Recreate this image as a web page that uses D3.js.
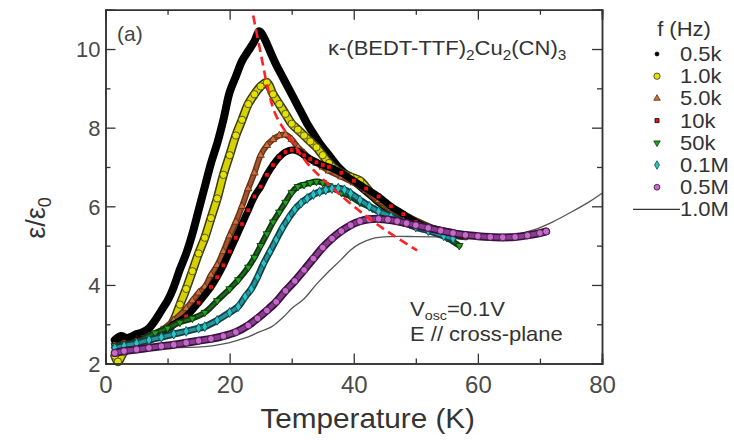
<!DOCTYPE html>
<html>
<head>
<meta charset="utf-8">
<script src="https://cdn.jsdelivr.net/npm/d3@7"></script>
<style>
  body { margin: 0; background: #fff; }
  svg { display: block; }
  text { font-family: "Liberation Sans", Arial, sans-serif; }
</style>
</head>
<body>
<svg id="chart" width="734" height="440"></svg>
<script>
// ---- data (T in K, eps/eps0) ----
const s05k = [[1.5,2.6],[2.5,2.7],[3.5,2.65],[5,2.75],[6,2.8],[7,2.9],[8,3.1],[9,3.35],[10,3.6],[11,3.95],[12,4.4],[13,4.8],[14,5.3],[15,5.9],[16,6.5],[17,7.1],[18,7.6],[19,8.2],[20,8.9],[21,9.3],[22,9.7],[23,9.95],[24,10.2],[24.8,10.45],[25.5,10.3],[26.5,9.95],[27.5,9.6],[28.5,9.3],[29.5,9.0],[30.5,8.7],[31.5,8.4],[32.5,8.1],[33.5,7.85],[34.5,7.6],[35.5,7.4],[36.5,7.2],[37.5,7.0],[38.5,6.85],[40,6.65],[41.5,6.45],[43,6.25],[44.5,6.05],[46,5.9],[48,5.72],[50,5.58],[52,5.45],[54,5.35],[56,5.28],[57.5,5.25]];
const s1k = [[1.5,2.2],[2,2.05],[3,2.3],[4,2.4],[5,2.45],[6,2.5],[7,2.6],[8,2.7],[9,2.8],[10,2.85],[11,3.1],[12,3.5],[13,3.9],[14,4.35],[15,4.8],[16,5.2],[17,5.7],[18,6.2],[19,6.8],[20,7.3],[21,7.8],[22,8.2],[23,8.6],[24,8.85],[25,9.05],[26,9.15],[27,8.85],[28,8.6],[29,8.35],[30,8.1],[31,7.95],[32,7.8],[33,7.65],[34,7.5],[35,7.3],[36,7.1],[37,6.95],[38,6.85],[39.5,6.75],[41,6.65],[43,6.3],[45,6.05],[47,5.85],[50,5.6],[53,5.4],[56,5.3],[58,5.25]];
const s5k = [[1.5,2.45],[3,2.5],[5,2.6],[7,2.7],[9,2.85],[11,3.1],[13,3.4],[14,3.6],[15,3.8],[16,3.95],[17,4.25],[18,4.5],[19,4.85],[20,5.25],[21,5.6],[22,6.0],[23,6.45],[24,6.85],[25,7.3],[26,7.55],[27,7.7],[28,7.8],[29,7.82],[30,7.7],[31,7.5],[32,7.35],[33,7.2],[34,7.1],[35,7.0],[36,6.9],[38,6.75],[40,6.6],[42,6.4],[44,6.15],[46,5.95],[48,5.75],[50,5.6],[52,5.45],[54,5.35],[56,5.28],[58,5.25]];
const s10k = [[1.5,2.5],[3,2.55],[5,2.6],[7,2.65],[9,2.78],[11,3.0],[13,3.2],[15,3.55],[17,3.95],[18,4.2],[19,4.5],[20,4.85],[21,5.2],[22,5.55],[23,5.9],[24,6.25],[25,6.5],[26,6.8],[27,7.05],[28,7.25],[29,7.38],[30,7.43],[31,7.4],[32,7.3],[33,7.2],[34,7.12],[35,7.05],[36,7.0],[38,6.85],[40,6.65],[42,6.45],[44,6.25],[46,6.0],[48,5.8],[50,5.6],[52,5.45],[54,5.38],[56,5.3],[58,5.25]];
const s50k = [[1.5,2.45],[3,2.5],[5,2.55],[8,2.78],[10,2.9],[12,3.05],[14,3.15],[16,3.3],[18,3.6],[20,3.9],[21.4,4.13],[23,4.45],[24,4.7],[25,5.0],[26,5.3],[27,5.6],[28,5.85],[29,6.1],[30,6.35],[31,6.5],[32,6.55],[33,6.6],[34,6.63],[35,6.6],[36,6.52],[37,6.45],[38,6.35],[39.5,6.25],[41,6.1],[43,5.95],[45,5.8],[47,5.65],[49,5.55],[51,5.45],[53,5.35],[55,5.2],[57,5.0]];
const s01M = [[1.5,2.4],[3,2.45],[5,2.52],[7,2.6],[9,2.67],[11,2.75],[13,2.82],[15,2.9],[16,2.94],[18,3.1],[20,3.3],[21.4,3.45],[22.5,3.7],[23.5,3.9],[24.5,4.2],[25.5,4.55],[26.5,4.85],[27.5,5.15],[28.5,5.45],[29.5,5.7],[30.5,5.92],[31.5,6.08],[32.5,6.2],[33.5,6.3],[34.5,6.37],[35.5,6.42],[36.5,6.45],[37.5,6.46],[38.5,6.42],[39.5,6.33],[41,6.16],[42.5,6.0],[44,5.87],[46,5.74],[48,5.6],[50,5.47],[52,5.38],[54.5,5.25],[56,5.18]];
const s05M = [[1.5,2.27],[3,2.32],[5,2.36],[7,2.4],[9,2.44],[11,2.48],[13,2.53],[15,2.58],[17,2.63],[19,2.7],[21,2.8],[23,2.97],[24.5,3.15],[26,3.35],[27.5,3.57],[29,3.85],[30.5,4.1],[32,4.38],[33.5,4.67],[35,4.95],[36.5,5.18],[38,5.37],[39.5,5.52],[41,5.62],[42.5,5.67],[44,5.68],[45.5,5.66],[47,5.62],[48.5,5.57],[50,5.52],[52,5.45],[54,5.38],[56,5.32],[58,5.27],[60,5.24],[62,5.22],[64,5.21],[66,5.22],[68,5.26],[70,5.32],[71,5.36]];
const s1M = [[1.5,2.35],[4,2.38],[8,2.4],[12,2.41],[16,2.43],[19,2.5],[21,2.58],[23,2.68],[25,2.82],[26.8,2.94],[28.7,3.19],[30,3.4],[32,3.65],[34,4.02],[36,4.35],[38,4.65],[39.5,4.89],[41,5.05],[43,5.18],[46,5.23],[50,5.23],[55,5.22],[60,5.2],[63,5.22],[66,5.28],[69,5.4],[72,5.6],[75,5.85],[78,6.12],[80,6.33]];
const guideLine = [[23.8,10.85],[25,9.9],[26.3,8.9],[27.5,8.3],[30.3,7.6],[32.5,7.1],[36.7,6.45],[42,5.75],[46,5.3],[50.2,4.88]];

const xTicksMajor = [0,20,40,60,80];
const xTicksMinor = [10,30,50,70];
const yTicksMajor = [2,4,6,8,10];
const yTicksMinor = [3,5,7,9];
const legendLabels = ["0.5k","1.0k","5.0k","10k","50k","0.1M","0.5M","1.0M"];

// ---- layout ----
const svg = d3.select("#chart");
const X0 = 105.5, X1 = 602, Y0 = 363.6, Y1 = 9.7;
const x = d3.scaleLinear().domain([0,80]).range([X0,X1]);
const y = d3.scaleLinear().domain([2,11]).range([Y0,Y1]);
const line = d3.line().x(d=>x(d[0])).y(d=>y(d[1])).curve(d3.curveCatmullRom);

const series = [
  {data:s05k, type:d3.symbolCircle, size:16, fill:"#000", stroke:"#000", band:"#000", bandW:8, inner:null, innerW:0, rot:0},
  {data:s1k, type:d3.symbolCircle, size:42, fill:"#e6e200", stroke:"#333", band:"#3a3a10", bandW:9, inner:"#d6d200", innerW:6, rot:0},
  {data:s5k, type:d3.symbolTriangle, size:24, fill:"#c8703f", stroke:"#5a2a10", band:"#6a3418", bandW:6, inner:"#a4572c", innerW:3, rot:0},
  {data:s10k, type:d3.symbolSquare, size:22, fill:"#ee1111", stroke:"#000", band:"#000", bandW:7, inner:null, innerW:0, rot:0},
  {data:s50k, type:d3.symbolTriangle, size:24, fill:"#22a022", stroke:"#0a300a", band:"#133513", bandW:6, inner:"#1e6a1e", innerW:2.5, rot:180},
  {data:s01M, type:d3.symbolDiamond, size:28, fill:"#2cc4c4", stroke:"#0d4a50", band:"#163f45", bandW:7, inner:"#23959b", innerW:3.5, rot:0},
  {data:s05M, type:d3.symbolCircle, size:36, fill:"#c86acc", stroke:"#3e1440", band:"#3a1040", bandW:8, inner:"#8a3f8e", innerW:4.5, rot:0}
];

const plot = svg.append("g");

// 1.0M line (under symbols)
plot.append("path").datum(s1M).attr("d", line)
  .attr("fill","none").attr("stroke","#555").attr("stroke-width",1.3);

series.forEach(s => {
  if (s.band) {
    plot.append("path").datum(s.data).attr("d", line)
      .attr("fill","none").attr("stroke", s.band).attr("stroke-width", s.bandW)
      .attr("stroke-linejoin","round").attr("stroke-linecap","round");
  }
  if (s.inner) {
    plot.append("path").datum(s.data).attr("d", line)
      .attr("fill","none").attr("stroke", s.inner).attr("stroke-width", s.innerW)
      .attr("stroke-linejoin","round").attr("stroke-linecap","round");
  }
  const sym = d3.symbol().type(s.type).size(s.size);
  plot.append("g").selectAll("path").data(s.data).join("path")
    .attr("d", sym)
    .attr("transform", d => `translate(${x(d[0])},${y(d[1])}) rotate(${s.rot})`)
    .attr("fill", s.fill).attr("stroke", s.stroke).attr("stroke-width", 0.8);
});

// red dashed guide
plot.append("path").datum(guideLine).attr("d", line)
  .attr("fill","none").attr("stroke","#ff2222").attr("stroke-width",2.6)
  .attr("stroke-dasharray","9,5");

// ---- axes ----
const axColor = "#333";
function styleAxis(g, fs) {
  g.select(".domain").attr("stroke", axColor).attr("stroke-width", 1.5);
  g.selectAll(".tick line").attr("stroke", axColor).attr("stroke-width", 1.3);
  g.selectAll(".tick text").attr("fill", "#4a4a4a").attr("font-size", fs || 21)
    .attr("font-family", "Liberation Sans, Arial, sans-serif");
}
const gxb = svg.append("g").attr("transform", `translate(0,${Y0})`)
  .call(d3.axisBottom(x).tickValues(xTicksMajor).tickSize(-10).tickPadding(12).tickFormat(d3.format("d")));
styleAxis(gxb, 24);
const gxbm = svg.append("g").attr("transform", `translate(0,${Y0})`)
  .call(d3.axisBottom(x).tickValues(xTicksMinor).tickSize(-5).tickFormat(""));
styleAxis(gxbm);
const gxt = svg.append("g").attr("transform", `translate(0,${Y1})`)
  .call(d3.axisTop(x).tickValues(xTicksMajor).tickSize(-10).tickFormat(""));
styleAxis(gxt);
const gxtm = svg.append("g").attr("transform", `translate(0,${Y1})`)
  .call(d3.axisTop(x).tickValues(xTicksMinor).tickSize(-5).tickFormat(""));
styleAxis(gxtm);
const gyl = svg.append("g").attr("transform", `translate(${X0},0)`)
  .call(d3.axisLeft(y).tickValues(yTicksMajor).tickSize(-10).tickPadding(5).tickFormat(d3.format("d")));
styleAxis(gyl, 22);
const gylm = svg.append("g").attr("transform", `translate(${X0},0)`)
  .call(d3.axisLeft(y).tickValues(yTicksMinor).tickSize(-5).tickFormat(""));
styleAxis(gylm);
const gyr = svg.append("g").attr("transform", `translate(${X1},0)`)
  .call(d3.axisRight(y).tickValues(yTicksMajor).tickSize(-10).tickFormat(""));
styleAxis(gyr);
const gyrm = svg.append("g").attr("transform", `translate(${X1},0)`)
  .call(d3.axisRight(y).tickValues(yTicksMinor).tickSize(-5).tickFormat(""));
styleAxis(gyrm);
gxb.selectAll(".tick text").attr("dy", "0.71em");
gyl.selectAll(".tick text").attr("dy", "0.36em");

// axis titles
svg.append("text").attr("transform", `translate(${(X0+X1)/2 + 14},428) scale(1.1,1)`).attr("text-anchor","middle")
  .attr("font-size", 27).attr("fill","#333").text("Temperature (K)");
const yt = svg.append("text").attr("transform","translate(45,218) rotate(-90)")
  .attr("text-anchor","middle").attr("font-size", 27).attr("fill","#333");
yt.append("tspan").text("ε/ε");
yt.append("tspan").attr("font-size",18).attr("dy",6).text("0");

// annotations
svg.append("text").attr("transform","translate(117,41) scale(1.05,1)").attr("font-size",20).attr("fill","#444").text("(a)");
const tt = svg.append("text").attr("transform","translate(328,55) scale(1.1,1)").attr("font-size",20).attr("fill","#333");
tt.append("tspan").text("κ-(BEDT-TTF)");
tt.append("tspan").attr("font-size",14).attr("dy",5).text("2");
tt.append("tspan").attr("dy",-5).text("Cu");
tt.append("tspan").attr("font-size",14).attr("dy",5).text("2");
tt.append("tspan").attr("dy",-5).text("(CN)");
tt.append("tspan").attr("font-size",14).attr("dy",5).text("3");

const vt = svg.append("text").attr("transform","translate(410,316) scale(1.1,1)").attr("font-size",20).attr("fill","#333");
vt.append("tspan").text("V");
vt.append("tspan").attr("font-size",13).attr("dy",3.5).text("osc");
vt.append("tspan").attr("dy",-3.5).text("=0.1V");
svg.append("text").attr("transform","translate(410,341) scale(1.1,1)").attr("font-size",20).attr("fill","#333").text("E // cross-plane");

// legend
const lg = svg.append("g");
lg.append("text").attr("transform","translate(684,36) scale(1.1,1)").attr("text-anchor","middle")
  .attr("font-size",20).attr("fill","#333").text("f (Hz)");
legendLabels.forEach((lab, i) => {
  const ly = 54 + i*22.2;
  if (i < series.length) {
    const s = series[i];
    lg.append("path").attr("d", d3.symbol().type(s.type).size(s.size*0.75)())
      .attr("transform", `translate(657,${ly}) rotate(${s.rot})`)
      .attr("fill", s.fill).attr("stroke", s.stroke).attr("stroke-width",0.8);
  } else {
    lg.append("line").attr("x1",633).attr("x2",680).attr("y1",ly).attr("y2",ly)
      .attr("stroke","#333").attr("stroke-width",1.3);
  }
  lg.append("text").attr("transform",`translate(680,${ly+7}) scale(1.1,1)`).attr("font-size",20).attr("fill","#333").text(lab);
});
</script>
</body>
</html>
